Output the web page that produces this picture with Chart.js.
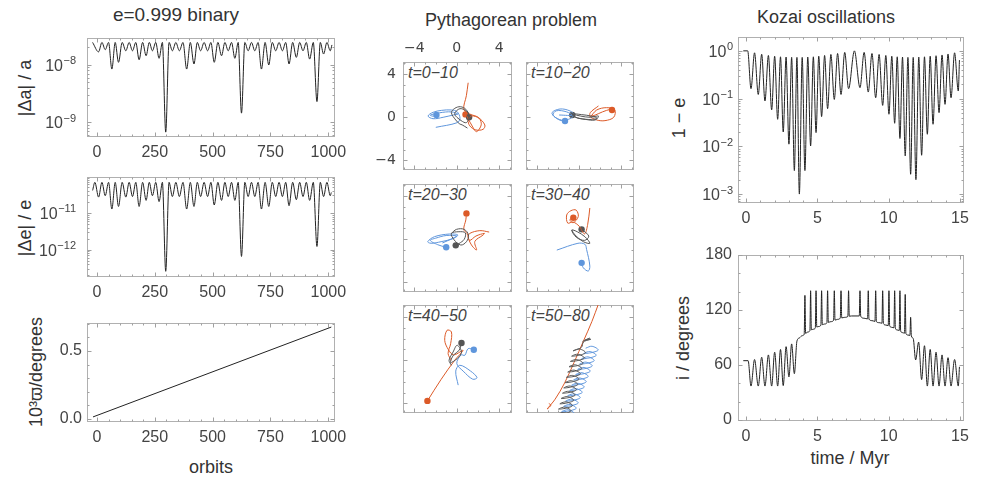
<!DOCTYPE html>
<html><head><meta charset="utf-8">
<script src="https://cdn.jsdelivr.net/npm/chart.js@4.4.1/dist/chart.umd.min.js"></script>
<style>
html,body{margin:0;padding:0;background:#fff}
body{width:981px;height:499px;position:relative;overflow:hidden;font-family:"Liberation Sans",Arial,sans-serif;color:#333}
.t{position:absolute;white-space:nowrap;transform:translate(-50%,-50%);font-size:18px;color:#333}
.r{transform:translate(-50%,-50%) rotate(-90deg)}
.lab{position:absolute;white-space:nowrap;font-style:italic;font-size:16px;color:#444;line-height:16px}
</style></head><body>
<div class="t" style="left:176px;top:15px;font-size:19px">e=0.999 binary</div>
<div class="t" style="left:511px;top:20px">Pythagorean problem</div>
<div class="t" style="left:826px;top:17px">Kozai oscillations</div>
<div class="t r" style="left:25px;top:88px">|Δa| / a</div>
<div class="t r" style="left:25px;top:228px">|Δe| / e</div>
<div class="t r" style="left:36px;top:372px">10³ϖ/degrees</div>
<div class="t" style="left:211px;top:467px">orbits</div>
<div class="t r" style="left:679px;top:118px">1 − e</div>
<div class="t r" style="left:683px;top:338px">i / degrees</div>
<div class="t" style="left:850px;top:458px">time / Myr</div>
<div class="lab" style="left:408px;top:65px">t=0−10</div>
<div class="lab" style="left:531px;top:65px">t=10−20</div>
<div class="lab" style="left:408px;top:187px">t=20−30</div>
<div class="lab" style="left:531px;top:187px">t=30−40</div>
<div class="lab" style="left:408px;top:308px">t=40−50</div>
<div class="lab" style="left:531px;top:308px">t=50−80</div>
<script>
// ---------- e=0.999 binary ----------
const orbitTicks = [0, 250, 500, 750, 1000];
const orbitTickLabels = ['0', '250', '500', '750', '1000'];
const daX = [-18.8,7.1,21.5,35.8,50.2,64.5,78.9,93.2,109,124.8,139.2,153.6,168,182.3,197.4,212.5,226.2,239.8,254.2,268.5,282.9,297.3,311.7,326,341.1,356.2,372,387.8,403.6,419.4,433.8,448.1,463.2,478.3,492.7,507,522.8,538.6,553,567.4,581.8,596.1,610.5,624.8,639.2,653.6,668,682.3,696.7,711,726.9,742.7,757.8,772.8,787.2,801.6,816,830.3,846.1,861.9,876.3,890.7,905,919.4,935.2,951,965.4,979.7,994.1,1008.5,1015.7];
const daY = [2.43e-8,1.67e-8,2.43e-8,1.82e-8,2.43e-8,8.4e-9,2.43e-8,1.10e-8,2.43e-8,1.74e-8,2.43e-8,1.74e-8,2.43e-8,1.22e-8,2.43e-8,1.43e-8,2.43e-8,1.74e-8,2.43e-8,1.29e-8,2.43e-8,6.8e-10,2.43e-8,1.74e-8,2.43e-8,1.74e-8,2.43e-8,8.4e-9,2.43e-8,1.03e-8,2.43e-8,1.74e-8,2.43e-8,1.74e-8,2.43e-8,1.10e-8,2.43e-8,1.43e-8,2.43e-8,1.74e-8,2.43e-8,1.29e-8,2.43e-8,1.45e-9,2.43e-8,1.74e-8,2.43e-8,1.74e-8,2.43e-8,8.4e-9,2.43e-8,9.9e-9,2.43e-8,1.74e-8,2.43e-8,1.74e-8,2.43e-8,1.03e-8,2.43e-8,1.34e-8,2.43e-8,1.74e-8,2.43e-8,1.25e-8,2.43e-8,2.3e-9,2.43e-8,1.53e-8,2.43e-8,1.74e-8,2.2e-8];
const deX = [-18.8,-9,7.1,21.5,35.8,50.2,64.5,78.9,93.2,109,124.8,139.2,153.6,168,182.3,197.4,212.5,226.2,239.8,254.2,268.5,282.9,297.3,311.7,326,341.1,356.2,372,387.8,403.6,419.4,433.8,448.1,463.2,478.3,492.7,507,522.8,538.6,553,567.4,581.8,596.1,610.5,624.8,639.2,653.6,668,682.3,696.7,711,726.9,742.7,757.8,772.8,787.2,801.6,816,830.3,846.1,861.9,876.3,890.7,905,919.4,935.2,951,965.4,979.7,994.1,1008.5,1013];
const deY = [4.1e-11,6.8e-11,2.7e-11,6.8e-11,2.95e-11,6.8e-11,1.28e-11,6.8e-11,1.5e-11,6.8e-11,2.7e-11,6.8e-11,2.8e-11,6.8e-11,1.5e-11,6.8e-11,2.2e-11,6.8e-11,2.95e-11,6.8e-11,2.04e-11,6.8e-11,2.6e-13,6.8e-11,2.8e-11,6.8e-11,2.8e-11,6.8e-11,1.28e-11,6.8e-11,1.5e-11,6.8e-11,2.8e-11,6.8e-11,2.8e-11,6.8e-11,1.65e-11,6.8e-11,2.2e-11,6.8e-11,2.8e-11,6.8e-11,2.2e-11,6.8e-11,6.6e-13,6.8e-11,2.8e-11,6.8e-11,2.8e-11,6.8e-11,1.28e-11,6.8e-11,1.5e-11,6.8e-11,2.8e-11,6.8e-11,2.8e-11,6.8e-11,1.58e-11,6.8e-11,2.3e-11,6.8e-11,2.8e-11,6.8e-11,2.2e-11,6.8e-11,1.23e-12,6.8e-11,2.8e-11,6.8e-11,2.95e-11,3.6e-11];
const pomX = [-17, 1013];
const pomY = [0.0125, 0.677];

// ---------- Kozai ----------
const timeTicks = [0, 5, 10, 15];
const kzT = [-0.19,0.12,0.35,0.6,0.86,1.1,1.33,1.57,1.80,2.01,2.22,2.42,2.61,2.81,3.01,3.2,3.39,3.57,3.74,3.94,4.13,4.33,4.53,4.72,4.91,5.1,5.30,5.51,5.72,5.95,6.19,6.42,6.66,6.92,7.19,7.6,7.99,8.28,8.57,8.83,9.09,9.33,9.58,9.8,10.02,10.22,10.42,10.6,10.79,10.97,11.16,11.35,11.54,11.72,11.91,12.11,12.31,12.51,12.71,12.91,13.11,13.32,13.53,13.74,13.95,14.16,14.37,14.62,14.88,14.96];
const kzE = [1.0,1.0,0.161,0.91,0.122,0.85,0.089,0.80,0.058,0.77,0.0368,0.75,0.020,0.74,0.0111,0.73,0.0031,0.73,0.001,0.73,0.0031,0.74,0.0102,0.75,0.0194,0.77,0.042,0.80,0.0615,0.84,0.096,0.88,0.122,0.93,0.161,1.0,0.169,0.93,0.137,0.88,0.104,0.84,0.072,0.80,0.047,0.77,0.0304,0.75,0.0146,0.74,0.0063,0.73,0.0026,0.73,0.0020,0.74,0.0065,0.75,0.0179,0.77,0.029,0.79,0.0508,0.82,0.0758,0.86,0.104,0.91,0.144,0.64];
const incT = [-0.19,0.15,0.35,0.6,0.86,1.1,1.33,1.57,1.80,2.01,2.22,2.42,2.61,2.81,3.01,3.2,3.39,3.57,3.74,3.94,4.08,4.13,4.18,4.33,4.48,4.53,4.58,4.72,4.86,4.91,4.96,5.1,5.25,5.30,5.35,5.51,5.67,5.72,5.77,5.95,6.14,6.19,6.24,6.42,6.61,6.66,6.71,6.92,7.14,7.19,7.24,7.4,7.85,7.94,7.99,8.04,8.28,8.52,8.57,8.62,8.83,9.04,9.09,9.14,9.33,9.53,9.58,9.63,9.8,9.97,10.02,10.07,10.22,10.37,10.42,10.47,10.6,10.74,10.79,10.84,10.97,11.11,11.16,11.21,11.35,11.49,11.54,11.59,11.72,11.89,12.1,12.31,12.51,12.71,12.91,13.11,13.32,13.53,13.74,13.95,14.16,14.37,14.62,14.88,14.96];
const incD = [64.7,64.7,37,66,37,68.5,37,71,37,74,37,77,37.5,80,47,83,50.5,86,89.5,92,93.5,136,94.5,96,97.5,141,98.5,99,100.5,141,101.5,102,103.5,141,104,104.7,106,141,106.5,107.3,108.7,141,109,109.8,111.2,141,111.4,112,113,141,113.2,113.5,113.5,113.5,141,113.2,111,110.3,141,110,108.4,107.6,141,107.3,106.2,105.6,141,105.2,103.6,103,141,102.6,101.1,100.6,141,100.1,98.2,97.6,141,97.1,95.3,94.7,137,94.3,92.7,92.3,112,91.8,89,65.5,85,44,81,37,77,37,74,37,71,37,68,37,66,37,58];

// ---------- Pythagorean problem (x, y pairs) ----------
const pyTicks = [-4, 0, 4];
const pyTickLabels = ['−4', '0', '4'];
const o1Blue = [[-1.98,-0.93],[0.03,-0.5],[0.3,-0.1],[0.03,0.52],[-0.51,0.68],[-1.45,0.64],[-2.24,0.46],[-2.71,0.12],[-2.24,-0.13],[-1.29,0.0],[-0.35,0.21],[0.1,0.3],[-0.51,0.5],[-1.6,0.42],[-2.5,0.2],[-2.2,0.1],[-1.92,0.21]];
const o1Orange = [[1.07,3.2],[0.9,2.0],[0.66,0.73],[1.23,0.3],[2.01,0.0],[2.64,-0.71],[2.48,-1.11],[1.79,-1.17],[1.23,-0.8],[1.07,-0.25],[1.38,0.12],[2.1,-0.1],[2.3,-0.7],[1.86,-1.33],[1.5,-0.9],[1.0,0.0],[0.82,0.27]];
const o1Gray = [[1.0,-1.0],[0.5,-0.7],[0.28,-0.62],[-0.1,-0.25],[-0.51,0.43],[-0.19,0.83],[0.34,0.98],[0.85,0.74],[1.16,0.12],[0.91,-0.49],[0.4,-0.3],[-0.2,0.3],[0.3,0.8],[1.0,0.5],[1.16,0.0]];
const o1Dots = [[-1.92,0.21],[0.82,0.27],[1.16,0.0]];
const o2Blue = [[-1.92,0.21],[-0.51,0.21],[-0.89,0.59],[-1.83,0.77],[-2.6,0.43],[-2.3,0.0],[-1.67,-0.31],[-1.04,-0.19],[-0.6,0.1],[-1.2,0.5],[-2.2,0.6],[-2.5,0.2],[-1.9,-0.2],[-1.36,-0.34]];
const o2Orange = [[1.82,1.05],[1.04,0.43],[1.04,0.06],[1.66,0.68],[2.6,0.89],[3.37,0.68],[3.27,0.0],[2.44,-0.31],[1.66,-0.25],[1.04,0.06],[1.5,0.2],[2.2,0.5],[3.0,0.75],[3.11,0.68]];
const o2Gray = [[-0.67,0.3],[0.09,0.12],[1.04,0.0],[1.82,0.12],[1.5,-0.25],[0.56,-0.19],[-0.38,0.0],[-0.67,0.3],[0.2,0.25],[1.2,0.1],[1.7,-0.1],[0.9,-0.2],[-0.2,-0.05],[-0.67,0.21]];
const o2Dots = [[-1.36,-0.34],[3.11,0.68],[-0.67,0.21]];
const o3Blue = [[-1.36,-0.34],[-0.38,0.09],[0.1,0.4],[-0.69,0.49],[-2.11,0.24],[-2.74,-0.22],[-2.42,-0.37],[-1.48,-0.22],[-0.38,0.05],[0.0,0.3],[-1.0,0.35],[-2.0,0.1],[-2.5,-0.1],[-1.8,-0.5],[-1.0,-0.74]];
const o3Orange = [[3.05,0.67],[2.17,0.8],[1.23,0.55],[1.07,0.24],[1.38,-0.52],[1.86,-0.99],[1.7,-0.2],[2.48,0.4],[2.6,0.55],[1.8,0.3],[1.2,-0.1],[1.0,0.5],[0.66,0.92],[0.85,1.8],[0.91,2.4]];
const o3Gray = [[-0.51,0.55],[-0.03,0.92],[0.69,0.92],[1.1,0.4],[0.91,-0.22],[0.38,-0.53],[-0.25,-0.06],[-0.51,0.55],[0.2,0.7],[0.8,0.6],[0.7,0.0],[0.2,-0.4],[-0.1,-0.56]];
const o3Dots = [[-1.0,-0.74],[0.91,2.4],[-0.1,-0.56]];
const o4Blue = [[-2.14,-1.0],[-0.13,-0.37],[0.53,-0.46],[0.69,-0.93],[1.0,-2.48],[0.85,-2.94],[0.38,-2.64],[0.22,-2.18]];
const o4Orange = [[1.0,2.9],[0.8,1.4],[0.5,0.5],[0.0,1.2],[-0.6,1.6],[-1.1,1.5],[-1.2,2.25],[-0.8,2.65],[-0.3,2.7],[-0.1,2.1],[-0.58,1.54],[-0.9,1.8],[-0.57,2.0]];
const o4Gray = [[-0.72,0.86],[-0.41,0.4],[0.38,-0.22],[1.0,-0.37],[0.53,0.24],[-0.2,0.7],[-0.72,0.86],[-0.3,0.2],[0.5,-0.1],[0.9,0.3],[0.22,0.92]];
const o4Dots = [[0.22,-2.18],[-0.57,2.0],[0.22,0.92]];
const o5Blue = [[0.13,-2.3],[-0.1,-1.0],[0.28,-0.46],[1.3,-1.0],[1.9,-1.6],[1.5,-1.75],[0.6,-1.0],[0.0,-0.3],[0.4,0.5],[0.75,0.46],[1.07,1.08],[1.6,0.98]];
const o5Orange = [[-0.51,0.0],[-0.82,0.62],[-0.58,1.54],[-0.51,2.63],[-0.92,2.78],[-1.14,1.85],[-0.8,1.0],[-0.3,0.5],[0.59,0.93],[-0.2,0.0],[-1.5,-1.8],[-2.77,-3.76]];
const o5Gray = [[-0.51,-0.46],[-0.73,0.0],[-0.35,0.77],[0.03,1.39],[0.44,0.77],[0.03,0.15],[-0.6,-0.2],[-0.3,0.5],[0.2,0.9],[0.44,1.6]];
const o5Dots = [[1.6,0.98],[-2.77,-3.76],[0.44,1.6]];
const o6Blue = [[0.60,1.12],[1.20,1.30],[1.80,0.96],[1.20,0.72],[0.41,0.63],[1.01,0.81],[1.61,0.47],[1.01,0.23],[0.22,0.14],[0.82,0.32],[1.42,-0.02],[0.82,-0.26],[0.03,-0.35],[0.63,-0.17],[1.23,-0.51],[0.63,-0.75],[-0.16,-0.84],[0.44,-0.66],[1.04,-1.00],[0.44,-1.24],[-0.35,-1.33],[0.25,-1.15],[0.85,-1.49],[0.25,-1.73],[-0.54,-1.82],[0.06,-1.64],[0.66,-1.98],[0.06,-2.22],[-0.73,-2.31],[-0.13,-2.13],[0.47,-2.47],[-0.13,-2.71],[-0.92,-2.80],[-0.32,-2.62],[0.28,-2.96],[-0.32,-3.20],[-1.11,-3.29],[-0.51,-3.11],[0.09,-3.45],[-0.51,-3.69],[-1.30,-3.78],[-0.70,-3.60],[-0.10,-3.94],[-0.70,-4.18],[-1.49,-4.27],[-0.89,-4.09],[-0.29,-4.43],[-0.89,-4.67],[-1.68,-4.76],[-1.08,-4.58],[-0.48,-4.92],[-1.08,-5.16]];
const o6Gray = [[0.3,1.75],[1.0,2.05],[0.5,1.85],[1.1,1.95],[0.4,1.7],[0.2,1.2],[-0.60,0.87],[0.00,1.05],[0.60,0.71],[0.00,0.47],[-0.73,0.38],[-0.13,0.56],[0.48,0.22],[-0.13,-0.02],[-0.85,-0.11],[-0.25,0.07],[0.35,-0.27],[-0.25,-0.51],[-0.98,-0.60],[-0.38,-0.42],[0.23,-0.76],[-0.38,-1.00],[-1.10,-1.09],[-0.50,-0.91],[0.10,-1.25],[-0.50,-1.49],[-1.23,-1.58],[-0.63,-1.40],[-0.03,-1.74],[-0.63,-1.98],[-1.35,-2.07],[-0.75,-1.89],[-0.15,-2.23],[-0.75,-2.47],[-1.48,-2.56],[-0.88,-2.38],[-0.28,-2.72],[-0.88,-2.96],[-1.60,-3.05],[-1.00,-2.87],[-0.40,-3.21],[-1.00,-3.45],[-1.73,-3.54],[-1.13,-3.36],[-0.53,-3.70],[-1.13,-3.94],[-1.85,-4.03],[-1.25,-3.85],[-0.65,-4.19],[-1.25,-4.43],[-1.98,-4.52],[-1.38,-4.34],[-0.78,-4.68],[-1.38,-4.92],[-2.10,-5.01],[-1.50,-4.83],[-0.90,-5.17],[-1.50,-5.41]];
const o6Orange = [[1.85,5.3],[1.2,3.6],[0.4,1.8],[-0.5,-0.2],[-1.4,-2.1],[-2.3,-3.6],[-3.05,-4.5],[-2.7,-4.15],[-2.9,-4.0]];

const BLUE = '#5f96dc', ORANGE = '#dc5a28', GRAY = '#555555', LINE = '#222222';
const TICKFONT = '"Liberation Sans", Arial, sans-serif';

function seq(lo, hi, step, skip) { const r = []; for (let v = lo; v <= hi + 1e-9; v += step) { const x = +v.toFixed(6); if (!skip || !skip.includes(x)) r.push(x); } return r; }
function logMinor(decLo, decHi) { const r = []; for (let d = decLo; d <= decHi; d++) for (let m = 2; m <= 9; m++) r.push(m * Math.pow(10, d)); return r; }

function mkFrame(cfg) {
  return { id: 'frame', beforeDatasetsDraw(chart) {
    const { ctx, chartArea: a, scales } = chart;
    const L = Math.round(a.left) + 0.5, R = Math.round(a.right) - 0.5, T = Math.round(a.top) + 0.5, B = Math.round(a.bottom) - 0.5;
    ctx.save();
    ctx.strokeStyle = '#b0b0b0'; ctx.lineWidth = 1;
    ctx.strokeRect(L, T, R - L, B - T);
    ctx.strokeStyle = '#a0a0a0';
    ctx.beginPath();
    const tk = (vals, len, ax) => (vals || []).forEach(v => {
      if (ax === 'x') { const p = Math.round(scales.x.getPixelForValue(v)) + 0.5; if (p < L || p > R) return; ctx.moveTo(p, B); ctx.lineTo(p, B - len); ctx.moveTo(p, T); ctx.lineTo(p, T + len); }
      else { const p = Math.round(scales.y.getPixelForValue(v)) + 0.5; if (p < T || p > B) return; ctx.moveTo(L, p); ctx.lineTo(L + len, p); ctx.moveTo(R, p); ctx.lineTo(R - len, p); }
    });
    tk(cfg.xMaj, 4, 'x'); tk(cfg.xMin, 2, 'x'); tk(cfg.yMaj, 4, 'y'); tk(cfg.yMin, 2, 'y');
    ctx.stroke();
    if (cfg.logLabels) {
      const { vals, exps, pad } = cfg.logLabels;
      ctx.fillStyle = '#444';
      vals.forEach((v, i) => {
        const y = scales.y.getPixelForValue(v);
        ctx.font = '11px ' + TICKFONT;
        const we = ctx.measureText(exps[i]).width;
        ctx.font = '16px ' + TICKFONT;
        const wt = ctx.measureText('10').width;
        const xr = a.left - pad;
        ctx.textBaseline = 'alphabetic'; ctx.textAlign = 'left';
        ctx.fillText('10', xr - we - wt - 0.5, y + 6);
        ctx.font = '11px ' + TICKFONT;
        ctx.fillText(exps[i], xr - we, y - 0.5);
      });
    }
    ctx.restore();
  } };
}

function axis(type, pos, min, max, vals, labels, show, size, pad, family) {
  return {
    type, position: pos, min, max,
    grid: { display: false, drawTicks: false }, border: { display: false },
    ticks: { display: show, autoSkip: false, maxRotation: 0, minRotation: 0, padding: pad, color: '#444',
      font: { family: family || 'Liberation Sans', size: size },
      callback: (v, i) => labels[i] },
    afterBuildTicks: s => { s.ticks = vals.map(v => ({ value: v })); }
  };
}

function panel(box, area, xs, ys, datasets, frame, xTop) {
  const [bx, by, bw, bh] = box, [l, t, r, b] = area;
  const cv = document.createElement('canvas');
  cv.width = bw; cv.height = bh;
  cv.style.cssText = `position:absolute;left:${bx}px;top:${by}px;width:${bw}px;height:${bh}px`;
  document.body.appendChild(cv);
  const yW = l - bx, xH = xTop ? (t - by) : (by + bh - b);
  xs.afterFit = s => { s.height = xH; s.paddingLeft = 0; s.paddingRight = 0; s.paddingTop = 0; s.paddingBottom = 0; };
  ys.afterFit = s => { s.width = yW; s.paddingLeft = 0; s.paddingRight = 0; s.paddingTop = 0; s.paddingBottom = 0; };
  new Chart(cv, {
    type: 'line',
    data: { datasets },
    options: {
      responsive: false, animation: false, events: [],
      layout: { padding: { left: 0, right: bx + bw - r, top: xTop ? 0 : t - by, bottom: xTop ? by + bh - b : 0 } },
      plugins: { legend: { display: false }, tooltip: { enabled: false } },
      scales: { x: xs, y: ys }
    },
    plugins: [mkFrame(frame)]
  });
}

const pts = (xs, ys) => xs.map((x, i) => ({ x, y: ys[i] }));
const pairs = arr => arr.map(p => ({ x: p[0], y: p[1] }));
const curve = (data, color) => ({ data, borderColor: color, borderWidth: 1, pointRadius: 0, cubicInterpolationMode: 'monotone', fill: false, clip: 0 });
const orbit = (arr, color) => ({ data: pairs(arr), borderColor: color, borderWidth: 1, pointRadius: 0, tension: 0.35, fill: false, clip: 0 });
const dots = arr => ({ data: pairs(arr), showLine: false, pointRadius: 3.2, borderWidth: 0,
  pointBackgroundColor: [BLUE, ORANGE, GRAY].slice(0, arr.length), clip: 0 });

const orbitMinor = seq(0, 1000, 50, orbitTicks);

// Left column
panel([0, 30, 346, 135], [87, 38, 335, 137],
  axis('linear', 'bottom', -43, 1029, orbitTicks, orbitTickLabels, true, 16, 6),
  axis('logarithmic', 'left', 5.6e-10, 2.9e-8, [1e-9, 1e-8], ['', ''], false, 16, 12),
  [curve(pts(daX, daY), LINE)],
  { xMaj: orbitTicks, xMin: orbitMinor, yMaj: [1e-9, 1e-8], yMin: logMinor(-10, -8),
    logLabels: { vals: [1e-9, 1e-8], exps: ['−9', '−8'], pad: 11 } });

panel([0, 170, 346, 135], [87, 177, 335, 277],
  axis('linear', 'bottom', -43, 1029, orbitTicks, orbitTickLabels, true, 16, 6),
  axis('logarithmic', 'left', 1.82e-13, 9.5e-11, [1e-12, 1e-11], ['', ''], false, 16, 12),
  [curve(pts(deX, deY), LINE)],
  { xMaj: orbitTicks, xMin: orbitMinor, yMaj: [1e-12, 1e-11], yMin: logMinor(-13, -11),
    logLabels: { vals: [1e-12, 1e-11], exps: ['−12', '−11'], pad: 11 } });

panel([0, 315, 346, 140], [87, 323, 335, 422],
  axis('linear', 'bottom', -43, 1029, orbitTicks, orbitTickLabels, true, 16, 6),
  axis('linear', 'left', -0.025, 0.707, [0, 0.5], ['0.0', '0.5'], true, 16, 5),
  [curve(pts(pomX, pomY), LINE)],
  { xMaj: orbitTicks, xMin: orbitMinor, yMaj: [0, 0.5], yMin: [0.1, 0.2, 0.3, 0.4, 0.6, 0.7] });

// Right column
panel([690, 30, 291, 200], [738, 37, 964, 203],
  axis('linear', 'bottom', -0.56, 15.28, timeTicks, ['0', '5', '10', '15'], true, 16, 6),
  axis('logarithmic', 'left', 6.5e-4, 1.95, [1e-3, 1e-2, 1e-1, 1], ['', '', '', ''], false, 16, 6),
  [curve(pts(kzT, kzE), LINE)],
  { xMaj: timeTicks, xMin: seq(0, 15, 1, timeTicks), yMaj: [1e-3, 1e-2, 1e-1, 1], yMin: logMinor(-4, 0),
    logLabels: { vals: [1e-3, 1e-2, 1e-1, 1], exps: ['−3', '−2', '−1', '0'], pad: 5 } });

panel([690, 245, 291, 200], [738, 255, 964, 421],
  axis('linear', 'bottom', -0.56, 15.28, timeTicks, ['0', '5', '10', '15'], true, 16, 6),
  axis('linear', 'left', -1.1, 180, [0, 60, 120, 180], ['0', '60', '120', '180'], true, 16, 6),
  [curve(pts(incT, incD), LINE)],
  { xMaj: timeTicks, xMin: seq(0, 15, 1, timeTicks), yMaj: [0, 60, 120, 180], yMin: seq(0, 180, 20, [0, 60, 120, 180]) });

// Middle: Pythagorean
const pyMinor = seq(-5, 5, 1, pyTicks);
const pyFrame = { xMaj: pyTicks, xMin: pyMinor, yMaj: pyTicks, yMin: pyMinor };
const orbitsSets = [
  [o1Blue, o1Orange, o1Gray, o1Dots],
  [o2Blue, o2Orange, o2Gray, o2Dots],
  [o3Blue, o3Orange, o3Gray, o3Dots],
  [o4Blue, o4Orange, o4Gray, o4Dots],
  [o5Blue, o5Orange, o5Gray, o5Dots],
  [o6Blue, o6Orange, o6Gray, null]
];
const areas = [[403, 62, 512, 170], [526, 62, 634, 170], [403, 184, 512, 292], [526, 184, 634, 292], [403, 305, 512, 413], [526, 305, 634, 413]];
areas.forEach((ar, k) => {
  const [bl, or, gr, dt] = orbitsSets[k];
  const ds = [orbit(gr, GRAY), orbit(bl, BLUE), orbit(or, ORANGE)];
  if (dt) ds.push(dots(dt));
  const first = k === 0;
  const box = first ? [368, 35, ar[2] - 368 + 10, ar[3] - 35 + 10] : [ar[0] - 10, ar[1] - 10, ar[2] - ar[0] + 20, ar[3] - ar[1] + 20];
  panel(box, ar,
    axis('linear', first ? 'top' : 'bottom', -5.07, 5.2, pyTicks, pyTickLabels, first, 14, 5, 'DejaVu Sans'),
    axis('linear', 'left', -4.88, 5.12, pyTicks, pyTickLabels, first, 14, 7, 'DejaVu Sans'),
    ds, pyFrame, first);
});
</script>
</body></html>
